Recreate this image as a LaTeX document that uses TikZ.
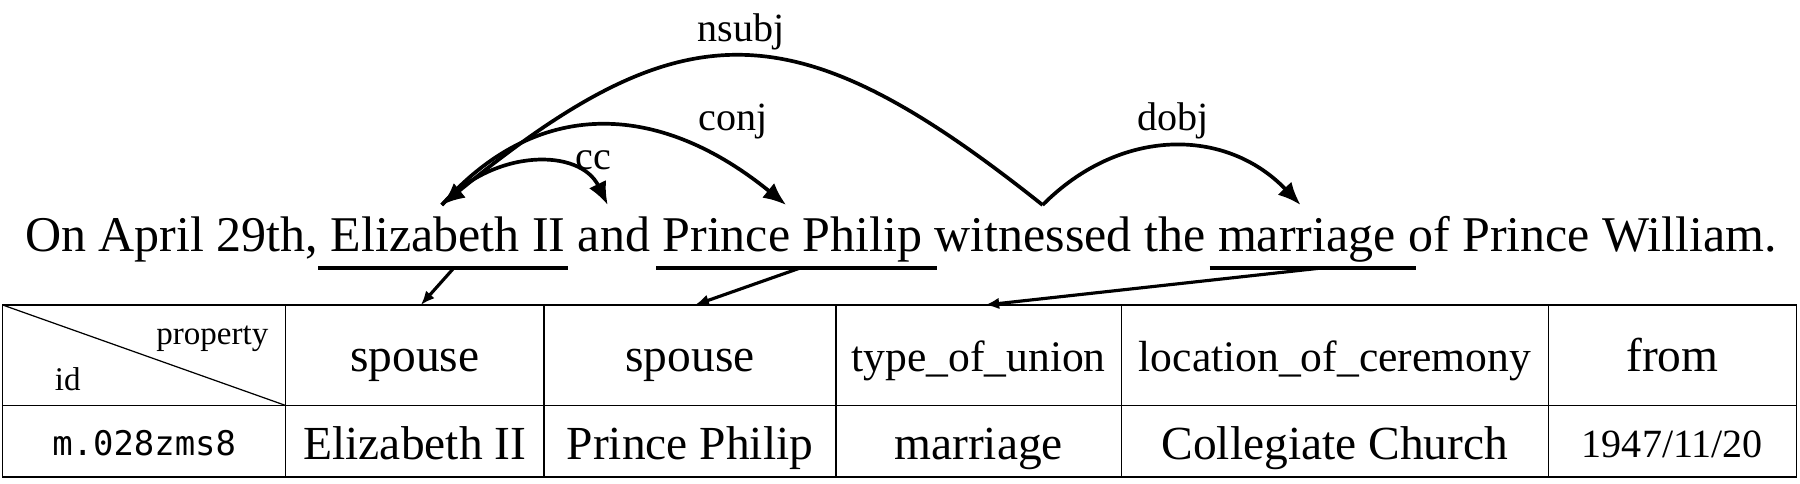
\documentclass[tikz,border=0pt]{standalone}
\usepackage{fontspec}
\setmainfont{Liberation Serif}
\setmonofont{DejaVu Sans Mono}
\usetikzlibrary{arrows.meta,positioning}

\begin{document}
\begin{tikzpicture}[x=2mm,y=2mm,
  word/.style={font=\fontsize{28.45}{34}\selectfont,text height=9.34mm,text depth=3.26mm},
  lab/.style={font=\fontsize{22.8}{27}\selectfont},
  small/.style={font=\fontsize{18.8}{22}\selectfont},
  cell/.style={draw,line width=0.85pt,minimum height=20.1mm,text height=6.7mm,text depth=0pt,font=\fontsize{27}{32}\selectfont},
  valcell/.style={cell,minimum height=14.3mm,text height=7.3mm},
  narrow/.style={font=\fontsize{24.8}{30}\selectfont},
  uline/.style={line width=2.4pt},
  dep/.style={line width=2.1pt,-{Latex[length=4.6mm,width=3.8mm]}},
  link/.style={line width=1.8pt,-{Latex[length=2.8mm,width=2.3mm]}}]
\tikzstyle{every node}+=[inner sep=0pt,outer sep=0pt]
\useasboundingbox (0,0) rectangle (180,-48.4);
\node[word,anchor=base west] (on) at (2.53,-25.17) {On April 29th,};
\node[word,base right=0pt of on] (eliz) {\ Elizabeth II};
\node[word,base right=0pt of eliz] (and) {\ and};
\node[word,base right=0pt of and] (pp) {\ Prince Philip};
\node[word,base right=0pt of pp] (wit) {\ witnessed};
\node[word,base right=0pt of wit] (the) {\ the};
\node[word,base right=0pt of the] (mar) {\ marriage};
\node[word,base right=0pt of mar] (rest) {\ of Prince William.};
\draw[uline] (eliz.south west) -- ([xshift=0.6mm]eliz.south east);
\draw[uline] ([xshift=1.2mm]pp.south west) -- ([xshift=3mm]pp.south east);
\draw[uline] ([xshift=0.8mm]mar.south west) -- ([xshift=4mm]mar.south east);
\draw[dep] ([xshift=3.1mm]wit.north) .. controls (79.4,-0.7) and (68.4,-0.7) .. (eliz.north);
\draw[dep] (eliz.north) .. controls (53.5,-9.9) and (65.6,-9.9) .. (pp.north);
\draw[dep] (eliz.north) .. controls (49.5,-14.8) and (58,-14.8) .. (and.north);
\draw[dep] ([xshift=3.1mm]wit.north) .. controls (112,-12.7) and (122.6,-12.7) .. (mar.north);
\node[lab,anchor=base] (lnsubj) at (74.1,-4.17) {nsubj};
\node[lab,anchor=base] (lconj) at (73.3,-13.1) {conj};
\node[lab,anchor=base] (lcc) at (59.3,-17) {cc};
\node[lab,anchor=base] (ldobj) at (117.3,-13.1) {dobj};
\node[cell,minimum width=56.6mm,anchor=north west] (hid) at (0.27,-30.5) {};
\node[cell,minimum width=51.66mm,right=0pt of hid] (hsp1) {spouse};
\node[cell,minimum width=58.4mm,right=0pt of hsp1] (hsp2) {spouse};
\node[cell,narrow,minimum width=57.06mm,right=0pt of hsp2] (htype) {type\_of\_union};
\node[cell,narrow,minimum width=85.4mm,right=0pt of htype] (hloc) {location\_of\_ceremony};
\node[cell,minimum width=49.64mm,right=0pt of hloc] (hfrom) {from};
\node[valcell,minimum width=56.6mm,below=0pt of hid,text height=5.7mm,font=\ttfamily\fontsize{19.3}{23}\selectfont] (vid) {m.028zms8};
\node[valcell,minimum width=51.66mm,right=0pt of vid] (vsp1) {Elizabeth II};
\node[valcell,minimum width=58.4mm,right=0pt of vsp1] (vsp2) {Prince Philip};
\node[valcell,minimum width=57.06mm,right=0pt of vsp2] (vtype) {marriage};
\node[valcell,minimum width=85.4mm,right=0pt of vtype] (vloc) {Collegiate Church};
\node[valcell,minimum width=49.64mm,right=0pt of vloc,text height=6.5mm,font=\fontsize{22.8}{27}\selectfont] (vfrom) {1947/11/20};
\draw[line width=0.7pt] (hid.north west) -- (hid.south east);
\node[small,anchor=base east] (prop) at (26.83,-34.5) {property};
\node[small,anchor=base west] (idtxt) at (5.5,-39.07) {id};
\draw[link] ([xshift=2.4mm]eliz.south) -- ([xshift=1.2mm]hsp1.north);
\draw[link] ([xshift=2.8mm]pp.south) -- ([xshift=1mm]hsp2.north);
\draw[link] ([xshift=4.2mm]mar.south) -- ([xshift=1.3mm]htype.north);
\end{tikzpicture}
\end{document}
